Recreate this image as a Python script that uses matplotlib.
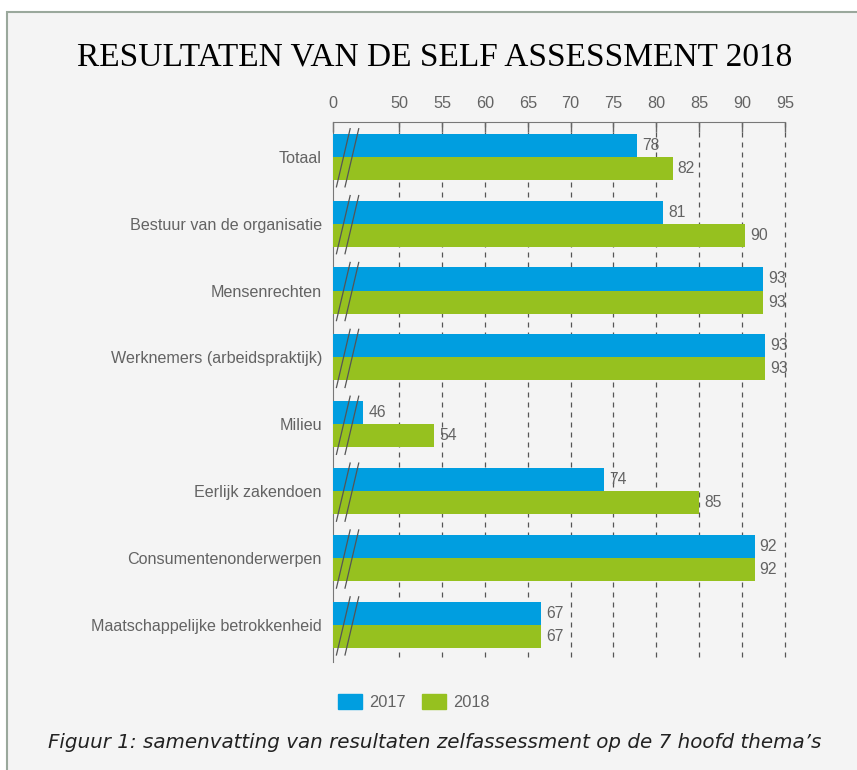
import numpy as np
import matplotlib.pyplot as plt
from matplotlib.patches import Rectangle, Patch

plt.rcParams['font.family'] = ['Liberation Sans', 'DejaVu Sans']

# data
categories = ['Totaal', 'Bestuur van de organisatie', 'Mensenrechten',
              'Werknemers (arbeidspraktijk)', 'Milieu', 'Eerlijk zakendoen',
              'Consumentenonderwerpen', 'Maatschappelijke betrokkenheid']
scores_2017 = [77.7, 80.8, 92.4, 92.7, 45.8, 73.9, 91.45, 66.55]
scores_2018 = [81.9, 90.3, 92.4, 92.7, 54.1, 85.0, 91.45, 66.55]
labels_2017 = ['78', '81', '93', '93', '46', '74', '92', '67']
labels_2018 = ['82', '90', '93', '93', '54', '85', '92', '67']
tick_values = [50, 55, 60, 65, 70, 75, 80, 85, 90, 95]

blue = '#009ee0'
green = '#96c11f'
grey_txt = '#636363'
x0 = 42.3  # axis break: '0' sits here

fig = plt.figure(figsize=(8.57, 7.70), dpi=100)
fig.patch.set_facecolor('white')
fig.patches.append(Rectangle((7 / 857, -0.01), 1.0, 1 - 12 / 770 + 0.01,
                             transform=fig.transFigure, facecolor='#f4f4f4',
                             edgecolor='#9aa89c', linewidth=1.5, zorder=-10))

ax = fig.add_axes([333 / 857, 1 - 657 / 770, (785 - 333) / 857, (657 - 122) / 770])
ax.set_facecolor('none')

y = np.arange(len(categories))
h = 0.345
ax.barh(y - h / 2, np.array(scores_2017) - x0, left=x0, height=h, color=blue, zorder=3)
ax.barh(y + h / 2, np.array(scores_2018) - x0, left=x0, height=h, color=green, zorder=3)

for i in range(len(categories)):
    ax.text(scores_2017[i] + 0.6, i - h / 2, labels_2017[i], va='center', ha='left',
            fontsize=11.3, color=grey_txt, zorder=4)
    ax.text(scores_2018[i] + 0.6, i + h / 2, labels_2018[i], va='center', ha='left',
            fontsize=11.3, color=grey_txt, zorder=4)
    # break marks
    for dx in (0, 1.0):
        ax.plot([x0 + 0.4 + dx, x0 + 2.0 + dx], [i + 0.45, i - 0.42],
                color='#555555', lw=0.9, zorder=5, clip_on=False)

ax.set_xlim(x0, 95)
ax.set_ylim(len(categories) - 0.52, -0.52)
ax.xaxis.tick_top()
ax.set_xticks([x0] + tick_values)
ax.set_xticklabels(['0'] + [str(v) for v in tick_values])
ax.tick_params(axis='x', direction='in', length=7, width=1, color='#666666',
               labelcolor=grey_txt, labelsize=11.7, pad=8)
ax.set_yticks(y)
ax.set_yticklabels(categories)
ax.tick_params(axis='y', length=0, labelcolor=grey_txt, labelsize=11.6, pad=8)

for v in tick_values:
    ax.axvline(v, color='#555555', lw=0.9, ls=(0, (4, 4)), zorder=1, clip_on=False)

for s in ['right', 'bottom']:
    ax.spines[s].set_visible(False)
ax.spines['top'].set_color('#777777')
ax.spines['left'].set_color('#777777')
ax.spines['left'].set_bounds(len(categories) - 0.45, -0.52)

fig.text(435 / 857, 1 - 57 / 770, 'RESULTATEN VAN DE SELF ASSESSMENT 2018',
         ha='center', va='center', fontsize=24, family='Liberation Serif', color='black')

handles = [Patch(color=blue, label='2017'), Patch(color=green, label='2018')]
fig.legend(handles=handles, loc='center', bbox_to_anchor=(414 / 857, 1 - 702 / 770),
           ncol=2, frameon=False, fontsize=11.8, labelcolor=grey_txt,
           handlelength=1.45, handleheight=1.0, handletextpad=0.45, columnspacing=1.0)

fig.text(435 / 857, 1 - 743 / 770,
         'Figuur 1: samenvatting van resultaten zelfassessment op de 7 hoofd thema\u2019s',
         ha='center', va='center', fontsize=14.3, style='italic',
         family='DejaVu Sans', color='#222222')

fig.savefig('out.png', dpi=100, facecolor='white')
